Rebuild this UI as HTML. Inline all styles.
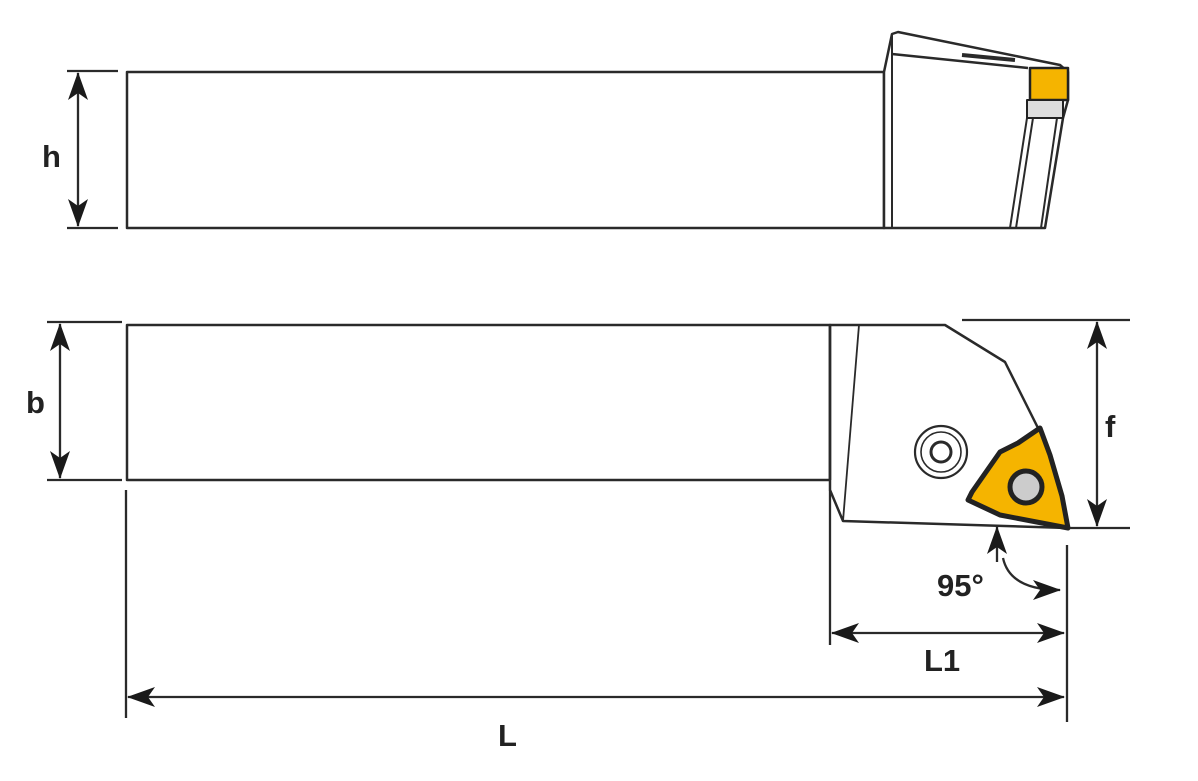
<!DOCTYPE html>
<html><head><meta charset="utf-8"><style>
html,body{margin:0;padding:0;background:#fff;}
svg{display:block}
text{font-family:"Liberation Sans","DejaVu Sans",sans-serif;font-weight:bold;fill:#222}
</style></head><body>
<svg width="1198" height="781" viewBox="0 0 1198 781" xmlns="http://www.w3.org/2000/svg">
<defs>
<marker id="a" viewBox="0 0 28 20" refX="27" refY="10" markerWidth="28" markerHeight="20" markerUnits="userSpaceOnUse" orient="auto-start-reverse">
<path d="M0,0 L28,10 L0,20 L7,10 Z" fill="#1a1a1a"/></marker>
</defs>
<g stroke="#2a2a2a" stroke-width="2.5" fill="none" stroke-linejoin="round">
<rect x="127" y="72" width="757" height="156" fill="#fff"/>
<path d="M884,228 L884,72 L892,34 L898,32 L1060,65 L1068,72 L1068,100 L1063,118 L1045,228 Z" fill="#fff"/>
<path d="M892,34 L892,228" stroke-width="2"/>
<path d="M892,54 L1028,68"/>
<path d="M962,55 L1015,60" stroke-width="4"/>
<path d="M1027,118 L1010,228 M1033,118 L1016,228 M1057,118 L1041,228" stroke-width="2"/>
<rect x="1030" y="68" width="38" height="32" fill="#f5b400" stroke="#222" stroke-width="2.5"/>
<rect x="1027" y="100" width="36" height="18" fill="#ddd" stroke="#222" stroke-width="2"/>
<rect x="127" y="325" width="703" height="155" fill="#fff"/>
<path d="M830,325 L945,325 L1005,362 L1038,428 L1068,528 L843,521 L830,490 Z" fill="#fff"/>
<path d="M830,325 L830,480"/>
<path d="M859,325 L843,521" stroke-width="1.8"/>
<circle cx="941" cy="452" r="26" stroke-width="2.2"/>
<circle cx="941" cy="452" r="20" stroke-width="1.6"/>
<circle cx="941" cy="452" r="10" stroke-width="3"/>
<path d="M1040,428 L1018,443 L1000,452 L972,492 L968,500 L1000,515 L1068,528 L1062,496 L1050,455 Z" fill="#f5b400" stroke="#222" stroke-width="5"/>
<circle cx="1026" cy="487" r="16" fill="#ccc" stroke="#222" stroke-width="5"/>
</g>
<g stroke="#2a2a2a" stroke-width="2.3" fill="none">
<path d="M67,71 L118,71 M67,228 L118,228"/>
<path d="M78,73 L78,226" marker-start="url(#a)" marker-end="url(#a)"/>
<path d="M47,322 L122,322 M47,480 L122,480"/>
<path d="M60,324 L60,478" marker-start="url(#a)" marker-end="url(#a)"/>
<path d="M962,320 L1130,320 M1070,528 L1130,528"/>
<path d="M1097,322 L1097,526" marker-start="url(#a)" marker-end="url(#a)"/>
<path d="M830,490 L830,645 M1067,545 L1067,722 M126,490 L126,718"/>
<path d="M832,633 L1064,633" marker-start="url(#a)" marker-end="url(#a)"/>
<path d="M128,697 L1064,697" marker-start="url(#a)" marker-end="url(#a)"/>
<path d="M997,562 L997,527" marker-end="url(#a)"/>
<path d="M1003,558 Q1010,590 1060,590" marker-end="url(#a)"/>
</g>
<text x="42" y="167" font-size="31">h</text>
<text x="26" y="413" font-size="31">b</text>
<text x="1105" y="437" font-size="31">f</text>
<text x="937" y="596" font-size="31">95°</text>
<text x="924" y="671" font-size="31">L1</text>
<text x="498" y="746" font-size="31">L</text>
</svg>
</body></html>
